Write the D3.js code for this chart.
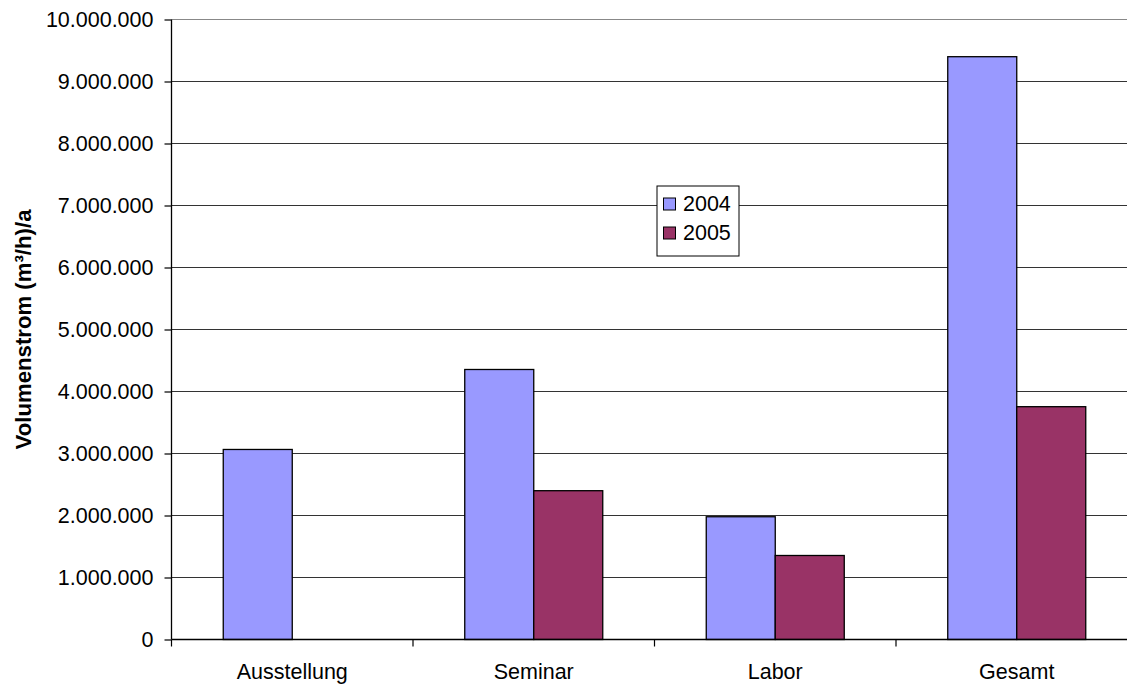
<!DOCTYPE html>
<html><head><meta charset="utf-8">
<script src="https://cdn.jsdelivr.net/npm/d3@7"></script>
<style>body{margin:0;background:#fff;overflow:hidden}svg{display:block}text{font-family:"Liberation Sans",Arial,sans-serif;fill:#000}</style>
</head><body><svg id="c" width="1127" height="687"></svg>
<script>
const categories = ["Ausstellung", "Seminar", "Labor", "Gesamt"];
const seriesNames = ["2004", "2005"];
const values2004 = [3065000, 4355000, 1980000, 9400000];
const values2005 = [0, 2400000, 1355000, 3755000];
const yTicks = [0,1000000,2000000,3000000,4000000,5000000,6000000,7000000,8000000,9000000,10000000];
const colors = ["#9999FF", "#993366"];

const FS = 21.5;
const svg = d3.select("#c");
const L = 171.5, R = 1137.5, T = 19.5, B = 639.5;
const x = d3.scaleBand().domain(categories).range([L, R]).paddingInner(0).paddingOuter(0);
const y = d3.scaleLinear().domain([0, 10000000]).range([B, T]);
const bw = x.bandwidth() / 3.5;
const fmt = v => d3.format(",")(v).replace(/,/g, ".");

// gridlines
svg.append("g").selectAll("line").data(yTicks.filter(d => d > 0)).join("line")
  .attr("x1", L).attr("x2", R).attr("y1", d => y(d)).attr("y2", d => y(d))
  .attr("stroke", d => d === 10000000 ? "#888" : "#333").attr("stroke-width", 1.2);

// bars
const series = [values2004, values2005];
series.forEach((vals, si) => {
  svg.append("g").selectAll("rect").data(categories.map((c, i) => ({c, v: vals[i]})).filter(d => d.v > 0)).join("rect")
    .attr("x", d => x(d.c) + bw * 0.75 + si * bw)
    .attr("y", d => y(d.v))
    .attr("width", bw)
    .attr("height", d => B - y(d.v))
    .attr("fill", colors[si]).attr("stroke", "#000").attr("stroke-width", 1.3);
});

// y axis
const ya = svg.append("g").attr("transform", `translate(${L},0)`)
  .call(d3.axisLeft(y).tickValues(yTicks).tickFormat(fmt).tickSize(7).tickPadding(11));
ya.attr("font-size", FS).attr("font-family", '"Liberation Sans",Arial,sans-serif');
ya.select(".domain").attr("stroke", "#000").attr("stroke-width", 1.3).attr("d", `M0,${T}V${B}`);
ya.selectAll(".tick line").attr("stroke", "#000").attr("stroke-width", 1.2);
ya.selectAll("text").attr("font-size", FS).attr("fill", "#000");

// x axis
const xa = svg.append("g").attr("transform", `translate(0,${B})`)
  .call(d3.axisBottom(x).tickSize(0).tickPadding(24));
xa.attr("font-size", FS).attr("font-family", '"Liberation Sans",Arial,sans-serif');
xa.select(".domain").attr("stroke", "#000").attr("stroke-width", 1.3).attr("d", `M${L},0H${R}`);
xa.selectAll("text").attr("font-size", FS).attr("fill", "#000");
svg.append("g").selectAll("line").data(categories).join("line")
  .attr("x1", d => x(d)).attr("x2", d => x(d)).attr("y1", B).attr("y2", B + 7)
  .attr("stroke", "#000").attr("stroke-width", 1.2);

// y title
svg.append("text").attr("transform", `translate(31,${(T + B) / 2}) rotate(-90)`)
  .attr("text-anchor", "middle").attr("font-size", 22.2).attr("font-weight", "bold")
  .text("Volumenstrom (m³/h)/a");

// legend
const lg = svg.append("g").attr("transform", "translate(657,186)");
lg.append("rect").attr("width", 82).attr("height", 70).attr("fill", "#fff").attr("stroke", "#000").attr("stroke-width", 1);
seriesNames.forEach((s, i) => {
  lg.append("rect").attr("x", 6.5).attr("y", 12 + i * 29).attr("width", 12).attr("height", 12)
    .attr("fill", colors[i]).attr("stroke", "#000").attr("stroke-width", 1);
  lg.append("text").attr("x", 26).attr("y", 25 + i * 29).attr("font-size", FS).text(s);
});
</script></body></html>
